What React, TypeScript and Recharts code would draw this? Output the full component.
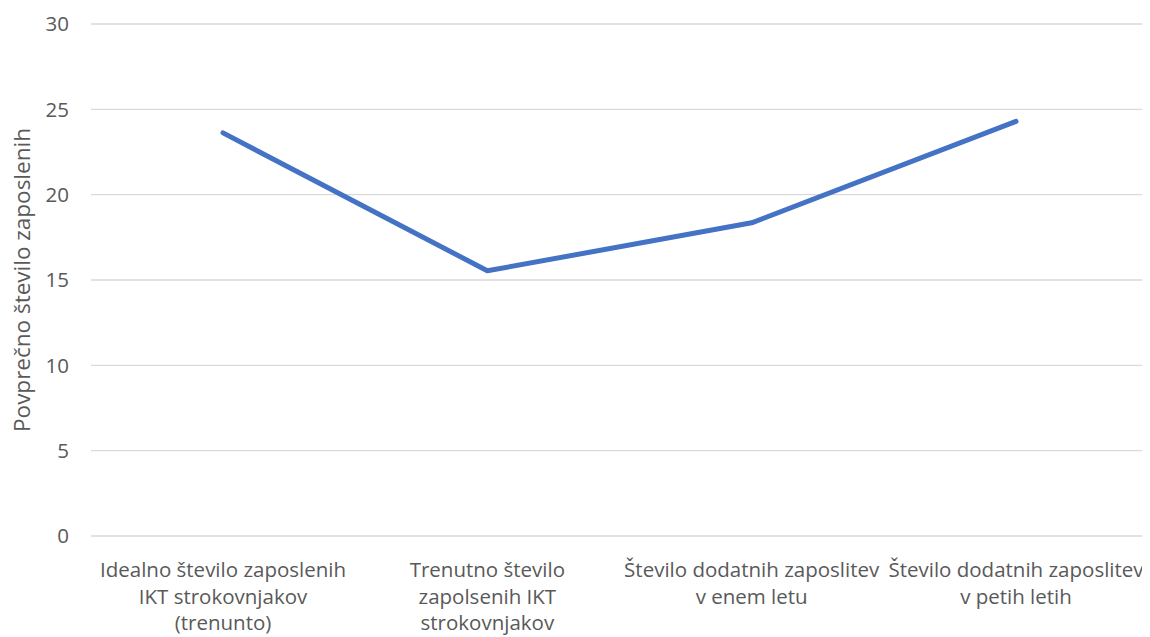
import React from "react";
import { LineChart, Line, XAxis, YAxis, CartesianGrid } from "recharts";

const categories = [
  "Idealno število zaposlenih\nIKT strokovnjakov\n(trenunto)",
  "Trenutno število\nzapolsenih IKT\nstrokovnjakov",
  "Število dodatnih zaposlitev\nv enem letu",
  "Število dodatnih zaposlitev\nv petih letih",
];
const values = [23.62, 15.54, 18.35, 24.29];
const yTicks = [0, 5, 10, 15, 20, 25, 30];
const yLabel = "Povprečno število zaposlenih";

const data = categories.map((c, i) => ({ name: c, value: values[i] }));

const FONT = "'Open Sans', sans-serif";
const TEXT = "#595959";
const FS = 20.5;

const CatTick = (props: any) => {
  const { x, y, payload } = props;
  const lines = String(payload.value).split("\n");
  return (
    <g transform={`translate(${x},${y})`}>
      {lines.map((l, i) => (
        <text
          key={i}
          x={0}
          y={0}
          dy={33 + i * 26.5}
          textAnchor="middle"
          fill={TEXT}
          fontSize={FS}
          fontFamily={FONT}
        >
          {l}
        </text>
      ))}
    </g>
  );
};

export default function App() {
  return (
    <LineChart
      width={1142}
      height={629}
      data={data}
      margin={{ top: 16, right: 2, left: 0, bottom: 0 }}
    >
      <CartesianGrid vertical={false} stroke="#d9d9d9" strokeWidth={1.3} />
      <XAxis
        dataKey="name"
        axisLine={false}
        tickLine={false}
        height={101}
        interval={0}
        padding={{ left: 132, right: 132 }}
        tick={<CatTick />}
      />
      <YAxis
        domain={[0, 30]}
        ticks={yTicks}
        axisLine={false}
        tickLine={false}
        width={83}
        tickMargin={16}
        tick={{ fill: TEXT, fontSize: FS, fontFamily: FONT }}
        label={{
          value: yLabel,
          angle: -90,
          position: "insideLeft",
          offset: 14,
          style: { fill: TEXT, fontSize: 22.5, fontFamily: FONT, textAnchor: "middle" },
        }}
      />
      <Line
        type="linear"
        dataKey="value"
        stroke="#4472C4"
        strokeWidth={5}
        strokeLinecap="round"
        strokeLinejoin="round"
        dot={false}
        isAnimationActive={false}
      />
    </LineChart>
  );
}
